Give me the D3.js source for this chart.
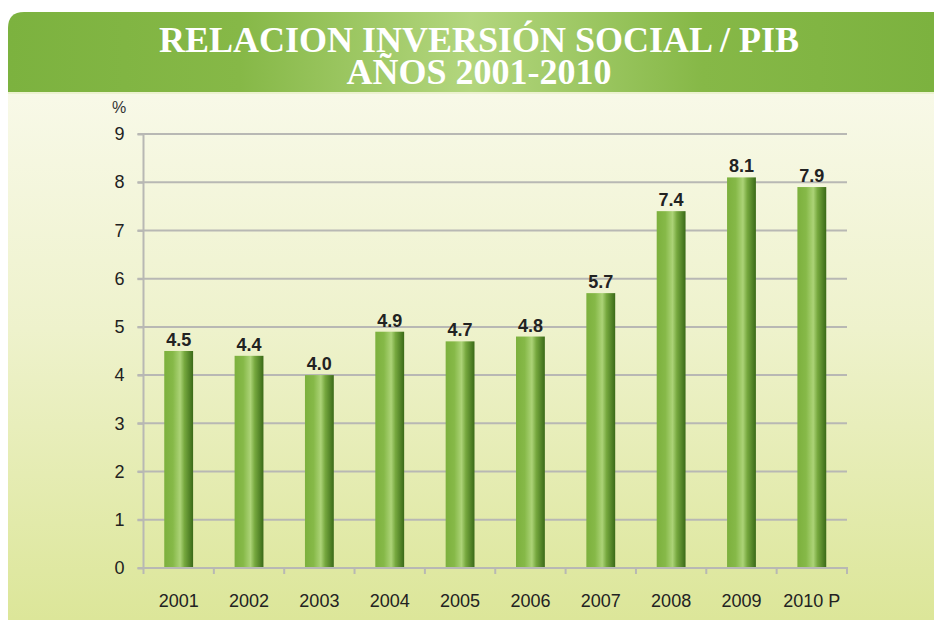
<!DOCTYPE html>
<html><head><meta charset="utf-8">
<script src="https://cdn.jsdelivr.net/npm/d3@7"></script>
<style>html,body{margin:0;padding:0;background:#fff;}svg{display:block;}</style>
</head><body>
<script>
const categories = ["2001","2002","2003","2004","2005","2006","2007","2008","2009","2010 P"];
const values = [4.5,4.4,4.0,4.9,4.7,4.8,5.7,7.4,8.1,7.9];
const yTicks = [0,1,2,3,4,5,6,7,8,9];
const titleLines = ["RELACION INVERSIÓN SOCIAL / PIB","AÑOS 2001-2010"];
const unitLabel = "%";

const W = 934, H = 620;
const svg = d3.select("body").append("svg").attr("width", W).attr("height", H);
const defs = svg.append("defs");

const bodyG = defs.append("linearGradient").attr("id","bodyG").attr("x1",0).attr("y1",0).attr("x2",0).attr("y2",1);
bodyG.append("stop").attr("offset","0%").attr("stop-color","#f8f9e8");
bodyG.append("stop").attr("offset","45%").attr("stop-color","#eef2cc");
bodyG.append("stop").attr("offset","100%").attr("stop-color","#dce699");

const headG = defs.append("linearGradient").attr("id","headG").attr("x1",0).attr("y1",0).attr("x2",1).attr("y2",0);
headG.append("stop").attr("offset","0%").attr("stop-color","#7cb23f");
headG.append("stop").attr("offset","25%").attr("stop-color","#86b847");
headG.append("stop").attr("offset","50%").attr("stop-color","#b3d67e");
headG.append("stop").attr("offset","75%").attr("stop-color","#86b847");
headG.append("stop").attr("offset","100%").attr("stop-color","#7cb23f");

const barG = defs.append("linearGradient").attr("id","barG").attr("x1",0).attr("y1",0).attr("x2",1).attr("y2",0);
[["0%","#7cb03d"],["30%","#86b948"],["55%","#acd377"],["70%","#76a83e"],["100%","#3a6a18"]].forEach(([o,c])=>
  barG.append("stop").attr("offset",o).attr("stop-color",c));

// body background
svg.append("rect").attr("x",8).attr("y",92).attr("width",W-8).attr("height",H-92).attr("fill","url(#bodyG)");
// header with rounded top-left
const hx=8, hy=12, hw=W-8, hh=80, r=16;
svg.append("path")
  .attr("d",`M${hx},${hy+hh} L${hx},${hy+r} Q${hx},${hy} ${hx+r},${hy} L${hx+hw},${hy} L${hx+hw},${hy+hh} Z`)
  .attr("fill","url(#headG)");
svg.append("line").attr("x1",8).attr("x2",W).attr("y1",93).attr("y2",93).attr("stroke","#e9efc8").attr("stroke-width",1.5);

const title = svg.append("text")
  .attr("text-anchor","middle")
  .attr("font-family","'Liberation Serif','DejaVu Serif',serif")
  .attr("font-weight","bold").attr("font-size",36).attr("fill","#fff");
title.selectAll("tspan").data(titleLines).join("tspan")
  .attr("x",479).attr("y",(d,i)=>52+i*32).text(d=>d);

const x0 = 143.5, x1 = 847, yTop = 134, yBot = 568;
const x = d3.scaleBand().domain(categories).range([x0,x1]).paddingInner(0.59).paddingOuter(0.295);
const y = d3.scaleLinear().domain([0,9]).range([yBot,yTop]);

// gridlines
svg.append("g").selectAll("line").data(yTicks.filter(t=>t>0)).join("line")
  .attr("x1",x0-6).attr("x2",x1).attr("y1",d=>y(d)).attr("y2",d=>y(d))
  .attr("stroke","#b8b8b4").attr("stroke-width",2);

// y axis
const yAxis = svg.append("g").attr("transform",`translate(${x0},0)`)
  .call(d3.axisLeft(y).tickValues(yTicks).tickSize(6).tickPadding(8).tickFormat(d3.format("d")));
yAxis.select(".domain").attr("stroke","#b8b8b4").attr("stroke-width",2).attr("d",`M0,${yTop}V${yBot}`);
yAxis.selectAll(".tick line").attr("stroke","#b8b8b4").attr("stroke-width",2);
yAxis.selectAll(".tick text").attr("font-family","'Liberation Sans',Arial,sans-serif").attr("font-size",18).attr("fill","#222").attr("dx",-5);

// bars
svg.append("g").selectAll("rect").data(values).join("rect")
  .attr("x",(d,i)=>x(categories[i])).attr("width",x.bandwidth())
  .attr("y",d=>y(d)).attr("height",d=>yBot-y(d))
  .attr("fill","url(#barG)");

// x axis
const xAxis = svg.append("g").attr("transform",`translate(0,${yBot})`)
  .call(d3.axisBottom(x).tickSize(0).tickPadding(26));
xAxis.select(".domain").remove();
xAxis.selectAll(".tick text").attr("font-family","'Liberation Sans',Arial,sans-serif").attr("font-size",18).attr("fill","#222");
const bounds = categories.map((c,i)=>x0 + i*(x1-x0)/categories.length).concat([x1]);
xAxis.append("line").attr("x1",x0-6).attr("x2",x1+1).attr("y1",0).attr("y2",0).attr("stroke","#b8b8b4").attr("stroke-width",2);
xAxis.selectAll("line.tk").data(bounds).join("line").attr("class","tk")
  .attr("x1",d=>d).attr("x2",d=>d).attr("y1",0).attr("y2",6).attr("stroke","#b8b8b4").attr("stroke-width",2);

// value labels
svg.append("g").selectAll("text").data(values).join("text")
  .attr("x",(d,i)=>x(categories[i])+x.bandwidth()/2).attr("y",d=>y(d)-5)
  .attr("text-anchor","middle")
  .attr("font-family","'Liberation Sans',Arial,sans-serif").attr("font-size",18).attr("font-weight","bold")
  .attr("fill","#222").text(d=>d.toFixed(1));

svg.append("text").attr("x",112).attr("y",113).attr("font-family","'Liberation Sans',Arial,sans-serif")
  .attr("font-size",16).attr("fill","#333").text(unitLabel);
</script>
</body></html>
